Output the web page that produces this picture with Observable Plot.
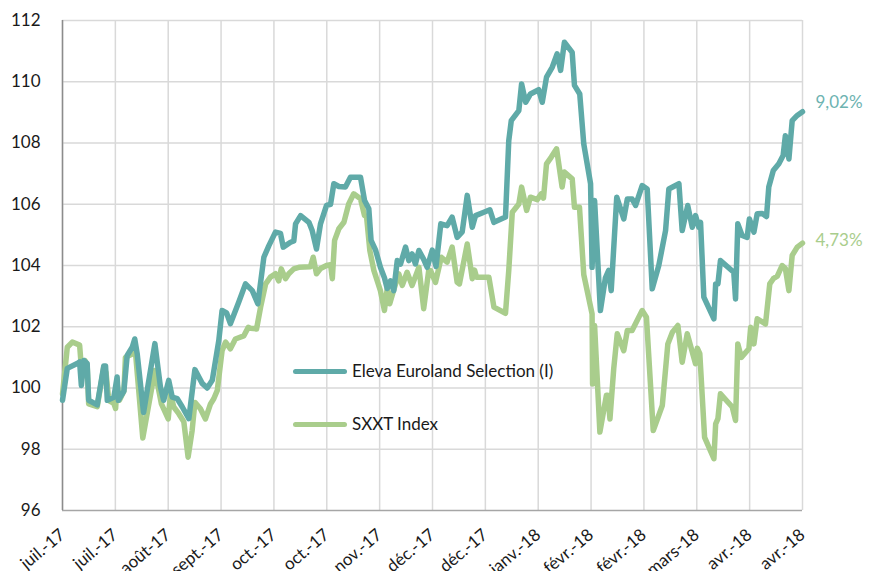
<!DOCTYPE html>
<html><head><meta charset="utf-8">
<script src="https://cdn.jsdelivr.net/npm/d3@7"></script>
<script src="https://cdn.jsdelivr.net/npm/@observablehq/plot@0.6"></script>
<style>
body{margin:0;background:#fff;}
#wrap{position:relative;width:872px;height:571px;font-family:Lato,"Open Sans",sans-serif;}
.leg{position:absolute;display:flex;align-items:center;font-size:17px;line-height:20px;color:#1a1a1a;white-space:nowrap;}
.leg .sw{display:inline-block;width:54px;height:5px;border-radius:3px;margin-right:5px;}
</style></head><body><div id="wrap"></div>
<script>
// Tick labels (every 21 days from start)
const tickLabels = ["juil.-17","juil.-17","août-17","sept.-17","oct.-17","oct.-17","nov.-17","déc.-17","déc.-17","janv.-18","févr.-18","févr.-18","mars-18","avr.-18","avr.-18"];
const tickStep = 21;
const yTicks = [96,98,100,102,104,106,108,110,112];

// Eleva Euroland Selection (I) — days since start, index values
const elevaDays = [0,1.9,5.8,6.8,7.5,8.5,9.8,10.4,13.8,16.4,17.1,17.8,20.4,21.7,22.2,24.4,25.7,27.7,28.7,29.7,32.2,36.7,38.9,40.2,42.2,43.6,45.6,47.6,50.2,52.6,55.5,57.5,59.5,62.1,63.4,65.2,66.7,70.0,72.7,75.4,77.6,80.0,82.0,84.6,86.6,87.7,90.6,91.9,92.6,94.6,97.9,99.2,100.9,102.5,104.9,106.5,107.8,109.8,112.4,114.4,118.4,120.0,121.7,122.6,124.4,126.3,127.9,129.0,130.3,131.6,133.0,134.3,136.3,137.6,138.9,140.2,141.6,143.5,144.9,146.9,148.4,150.3,152.8,154.8,156.8,158.8,160.8,162.8,164.1,167.4,169.8,171.4,176.0,177.3,178.3,181.3,182.4,184.0,185.9,189.2,190.6,192.3,194.6,196.5,197.9,199.4,202.5,203.4,205.5,207.1,209.8,210.4,211.4,213.7,215.7,217.0,218.0,220.2,223.0,224.4,226.3,227.7,230.3,232.3,234.3,236.9,239.6,240.9,244.9,246.2,248.4,250.2,251.5,252.8,253.5,254.8,258.8,259.5,260.4,261.4,266.7,267.4,268.3,270.0,272.0,272.9,274.7,276.0,278.0,279.7,280.6,282.4,284.6,286.3,287.2,288.6,289.9,291.9,294];
const elevaValues = [99.6,100.64,100.8,100.85,100.08,100.9,100.8,99.6,99.45,100.72,100.72,99.6,99.7,100.36,99.6,99.9,101.06,101.33,101.6,101.1,99.2,101.45,100.04,99.6,100.25,99.7,99.65,99.38,99.0,100.6,100.15,100.0,100.25,101.55,102.53,102.45,102.1,102.8,103.4,103.18,102.75,104.27,104.65,105.09,105.05,104.6,104.76,104.8,105.36,105.63,105.41,105.14,104.54,105.36,105.96,106.0,106.67,106.58,106.56,106.88,106.88,106.12,105.85,104.82,104.5,103.94,103.6,103.25,103.5,103.18,104.16,104.05,104.6,104.16,104.38,104.05,104.49,104.2,103.94,104.5,103.97,105.36,105.3,105.58,104.92,105.1,106.29,105.25,105.63,105.74,105.82,105.41,105.58,108.08,108.73,109.06,109.93,109.33,109.6,109.74,109.33,110.15,110.48,110.91,110.37,111.29,110.96,109.88,109.6,107.97,106.67,103.94,106.12,102.53,103.6,103.84,103.18,106.23,105.52,106.17,106.17,105.96,106.61,106.5,103.24,104.0,105.14,106.5,106.67,105.14,105.96,105.25,105.63,105.25,105.41,102.97,102.26,103.4,103.4,104.16,103.78,102.91,105.36,104.98,104.92,105.52,105.09,105.69,105.7,105.6,106.56,107.1,107.32,107.59,108.24,107.48,108.73,108.9,109.02];

// SXXT Index — days since start, index values
const sxxtDays = [0,1.9,3.9,6.8,7.8,8.9,9.8,10.4,13.8,16.4,17.3,18.4,20.4,21.1,21.7,22.6,24.4,25.0,27.7,29.0,31.9,36.7,39.3,42.0,42.9,44.2,46.2,48.2,49.9,51.5,52.6,54.8,56.8,58.8,60.1,61.5,63.4,64.8,66.7,68.7,72.0,73.8,74.7,77.1,78.7,80.7,82.6,84.6,85.9,86.9,88.6,89.9,91.9,93.9,98.5,99.6,100.9,102.5,104.9,106.5,107.2,108.1,109.8,111.8,113.7,115.7,118.4,120.0,120.8,122.1,123.7,126.3,127.9,129.0,130.0,131.6,133.6,135.0,136.9,138.9,141.6,143.5,145.5,146.2,148.2,150.5,152.8,154.8,156.8,157.7,160.8,162.8,163.7,164.5,169.4,171.4,176.0,177.3,178.7,181.3,182.4,184.4,185.9,188.6,190.2,191.1,192.3,194.2,196.3,198.5,199.4,202.5,203.4,205.4,207.1,210.4,210.6,211.4,213.5,216.1,216.7,217.5,219.0,220.4,223.0,224.4,226.3,230.3,232.0,234.7,238.3,240.5,242.3,244.5,246.2,248.2,251.5,252.2,253.2,255.1,258.8,259.5,260.4,261.4,266.1,267.4,268.3,269.7,272.7,273.4,274.7,276.0,279.3,281.0,282.4,284.0,285.9,287.2,288.6,289.9,291.9,294];
const sxxtValues = [99.8,101.33,101.5,101.4,100.36,100.9,100.75,99.48,99.39,100.69,100.5,99.59,99.5,99.33,100.15,99.6,99.9,101.0,101.11,101.16,98.37,100.57,99.48,98.99,99.81,99.38,99.16,98.9,97.74,98.61,99.53,99.32,98.99,99.48,99.65,99.92,101.22,101.5,101.28,101.6,101.7,101.98,101.95,101.93,102.64,103.4,103.62,103.73,103.5,103.89,103.57,103.73,103.89,103.94,103.96,104.27,103.73,103.9,104.0,104.03,103.57,104.82,105.2,105.41,106.01,106.34,106.18,105.63,105.6,104.49,103.84,103.18,102.53,103.24,102.75,103.2,103.73,103.35,103.78,103.35,103.94,102.59,103.84,103.84,103.45,104.27,104.11,104.6,103.45,103.4,104.7,103.57,103.85,103.62,103.62,102.64,102.44,103.84,105.74,106.01,106.56,105.8,106.23,106.15,106.34,106.2,107.32,107.54,107.81,106.56,107.05,106.83,105.9,105.9,103.7,102.42,100.13,102.04,98.56,99.76,99.76,98.99,100.63,101.77,101.22,101.88,101.88,102.53,102.31,98.61,99.43,101.44,101.82,102.04,100.84,101.77,100.79,101.3,101.12,98.39,97.69,98.83,99.0,99.81,99.38,98.94,101.44,101.0,101.28,101.98,101.44,102.26,102.09,103.4,103.57,103.65,104.0,103.9,103.18,104.33,104.6,104.73];

const seriesNames = ["Eleva Euroland Selection (I)", "SXXT Index"];
const colors = ["#5faaa8", "#a9cd8c"];
const labelColors = ["#6db3b1", "#a9cd8c"];

const eleva = elevaDays.map((d, i) => ({day: d, value: elevaValues[i]}));
const sxxt = sxxtDays.map((d, i) => ({day: d, value: sxxtValues[i]}));
const tickDays = tickLabels.map((_, i) => i * tickStep);
const fmtPerf = v => (v - 100).toFixed(2).replace(".", ",") + "%";

const chart = Plot.plot({
  width: 872, height: 571,
  marginLeft: 62, marginRight: 70, marginTop: 20, marginBottom: 61,
  style: {fontFamily: "Lato, 'Open Sans', sans-serif", fontSize: "16px", color: "#1a1a1a", background: "white"},
  x: {domain: [0, tickStep * (tickLabels.length - 1)], label: null},
  y: {domain: [96, 112], label: null},
  marks: [
    Plot.gridX(tickDays, {stroke: "#d9d9d9", strokeOpacity: 1, strokeWidth: 1.5}),
    Plot.gridY(yTicks.slice(1), {stroke: "#d9d9d9", strokeOpacity: 1, strokeWidth: 1.5}),
    Plot.ruleY([96], {stroke: "#a6a6a6", strokeWidth: 1.5}),
    Plot.ruleX([0], {stroke: "#8c8c8c", strokeWidth: 1.5}),
    Plot.axisY(yTicks, {tickSize: 0, tickPadding: 22, fontSize: 17, fill: "#1a1a1a", label: null}),
    Plot.axisX(tickDays, {tickSize: 0, tickPadding: 22, tickRotate: -40, fontSize: 17, fill: "#1a1a1a", label: null,
      tickFormat: d => tickLabels[Math.round(d / tickStep)]}),
    Plot.line(sxxt, {x: "day", y: "value", stroke: colors[1], strokeWidth: 5.5, strokeLinejoin: "round", strokeLinecap: "round"}),
    Plot.line(eleva, {x: "day", y: "value", stroke: colors[0], strokeWidth: 5.5, strokeLinejoin: "round", strokeLinecap: "round"}),
    Plot.text([eleva[eleva.length - 1]], {x: "day", y: "value", text: d => fmtPerf(d.value), dx: 13, dy: -9, textAnchor: "start", fill: labelColors[0], fontSize: 17}),
    Plot.text([sxxt[sxxt.length - 1]], {x: "day", y: "value", text: d => fmtPerf(d.value), dx: 13, dy: -3, textAnchor: "start", fill: labelColors[1], fontSize: 17})
  ]
});
const wrap = document.getElementById("wrap");
wrap.appendChild(chart);

// Legend overlaid on the plot area
const legendPos = [[293, 361], [293, 414]];
seriesNames.forEach((name, i) => {
  const d = document.createElement("div");
  d.className = "leg";
  d.style.left = legendPos[i][0] + "px";
  d.style.top = legendPos[i][1] + "px";
  const sw = document.createElement("span");
  sw.className = "sw";
  sw.style.background = colors[i];
  d.appendChild(sw);
  d.appendChild(document.createTextNode(name));
  wrap.appendChild(d);
});
</script></body></html>
